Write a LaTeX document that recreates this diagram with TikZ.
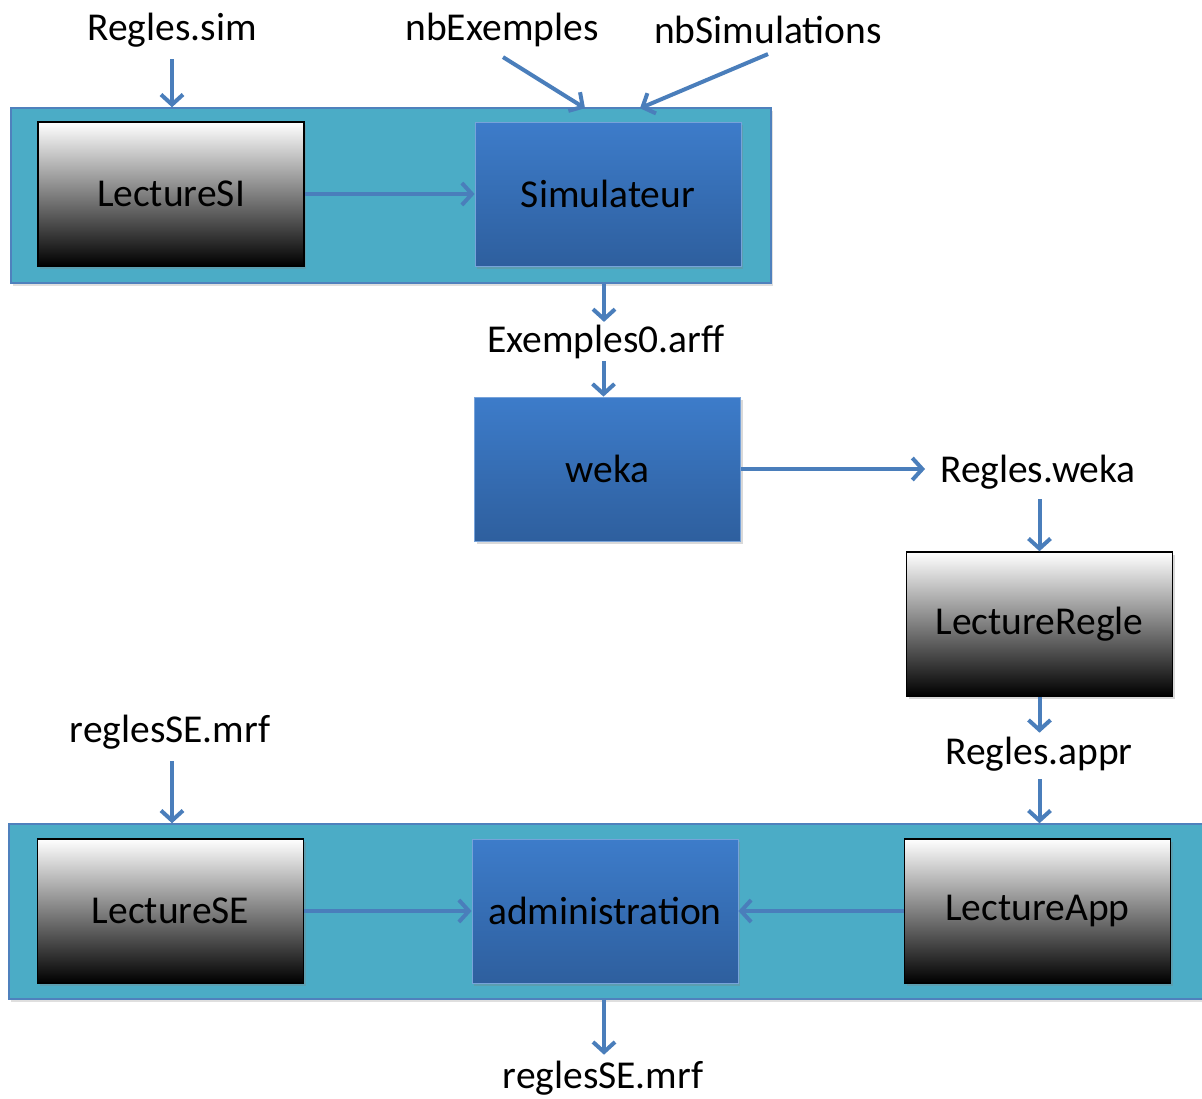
\documentclass[tikz,border=0pt]{standalone}
\usepackage{fontspec}
\setmainfont{Carlito}
\usetikzlibrary{arrows.meta,shadows}
\definecolor{contfill}{HTML}{4BACC6}
\definecolor{contdraw}{HTML}{4F81BD}
\definecolor{arrcol}{HTML}{4A7EBB}
\definecolor{bluetop}{HTML}{3D7CCA}
\definecolor{bluebot}{HTML}{2E5F9E}
\begin{document}
\begin{tikzpicture}[x=1pt,y=-1pt,
  every node/.style={font=\fontsize{39.5}{42}\selectfont, inner sep=0pt},
  container/.style={draw=contdraw, line width=1.5pt, fill=contfill,
     drop shadow={shadow xshift=2pt, shadow yshift=-3pt, opacity=0.25}},
  graybox/.style={draw=black, line width=1.5pt, top color=white, bottom color=black,
     minimum width=266pt, minimum height=144pt,
     drop shadow={shadow xshift=2pt, shadow yshift=-3pt, opacity=0.3}},
  bluebox/.style={draw=bluetop!70!white, line width=0.8pt, top color=bluetop, bottom color=bluebot,
     minimum width=266pt, minimum height=144pt,
     drop shadow={shadow xshift=2pt, shadow yshift=-3pt, opacity=0.3}},
  arr/.style={draw=arrcol, line width=4pt, -{Straight Barb[length=10pt,width=22pt,line width=4pt]}},
  lbl/.style={}]
\useasboundingbox (0,0) rectangle (1202,1098);
% containers
\node[container, minimum width=760pt, minimum height=175pt] (top) at (391,195.5) {};
\node[container, minimum width=1196pt, minimum height=175pt] (bot) at (607,911.5) {};
% boxes
\node[graybox] (lsi) at (171,194) {LectureSI};
\node[bluebox] (sim) at (608,194) {Simulateur};
\node[bluebox] (weka) at (607.5,469) {weka};
\node[graybox] (lreg) at (1039.5,624) {LectureRegle};
\node[graybox] (lse) at (170.5,911) {LectureSE};
\node[bluebox] (adm) at (605,911) {administration};
\node[graybox] (lapp) at (1037.5,911) {LectureApp};
% labels
\node[lbl] (rsim) at (172,30) {Regles.sim};
\node[lbl] (nbex) at (502,30) {nbExemples};
\node[lbl] (nbsim) at (768,30) {nbSimulations};
\node[lbl] (ex0) at (606,342) {Exemples0.arff};
\node[lbl] (rweka) at (1038,472) {Regles.weka};
\node[lbl] (rappr) at (1039,754) {Regles.appr};
\node[lbl] (rse1) at (170,732) {reglesSE.mrf};
\node[lbl] (rse2) at (603,1078) {reglesSE.mrf};
% connectors
\draw[arr] ([yshift=-12pt]rsim.south) -- (rsim.south |- top.north);
\draw[arr] ([yshift=-10pt,xshift=1pt]nbex.south) -- ([xshift=-23pt,yshift=-1pt]sim.north |- top.north);
\draw[arr] ([yshift=-10pt]nbsim.south) -- ([xshift=32pt,yshift=-1pt]sim.north |- top.north);
\draw[arr] (lsi.east) -- (sim.west);
\draw[arr] ([xshift=-4pt]sim.south |- top.south) -- ([xshift=-4pt,yshift=3pt]sim.south |- ex0.north);
\draw[arr] ([xshift=-4pt,yshift=-2pt]weka.north |- ex0.south) -- ([xshift=-4pt]weka.north);
\draw[arr] (weka.east) -- ([xshift=-15pt]rweka.west |- weka.east);
\draw[arr] ([yshift=-10pt]lreg.north |- rweka.south) -- (lreg.north);
\draw[arr] (lreg.south) -- ([yshift=4pt]lreg.south |- rappr.north);
\draw[arr] ([yshift=-8pt]lreg.south |- rappr.south) -- (lreg.south |- bot.north);
\draw[arr] ([xshift=2pt,yshift=-12pt]rse1.south) -- ([xshift=2pt]rse1.south |- bot.north);
\draw[arr] (lse.east) -- (adm.west);
\draw[arr] (lapp.west) -- (adm.east);
\draw[arr] ([xshift=-1pt]adm.south |- bot.south) -- ([xshift=-1pt,yshift=6pt]adm.south |- rse2.north);
\end{tikzpicture}
\end{document}
